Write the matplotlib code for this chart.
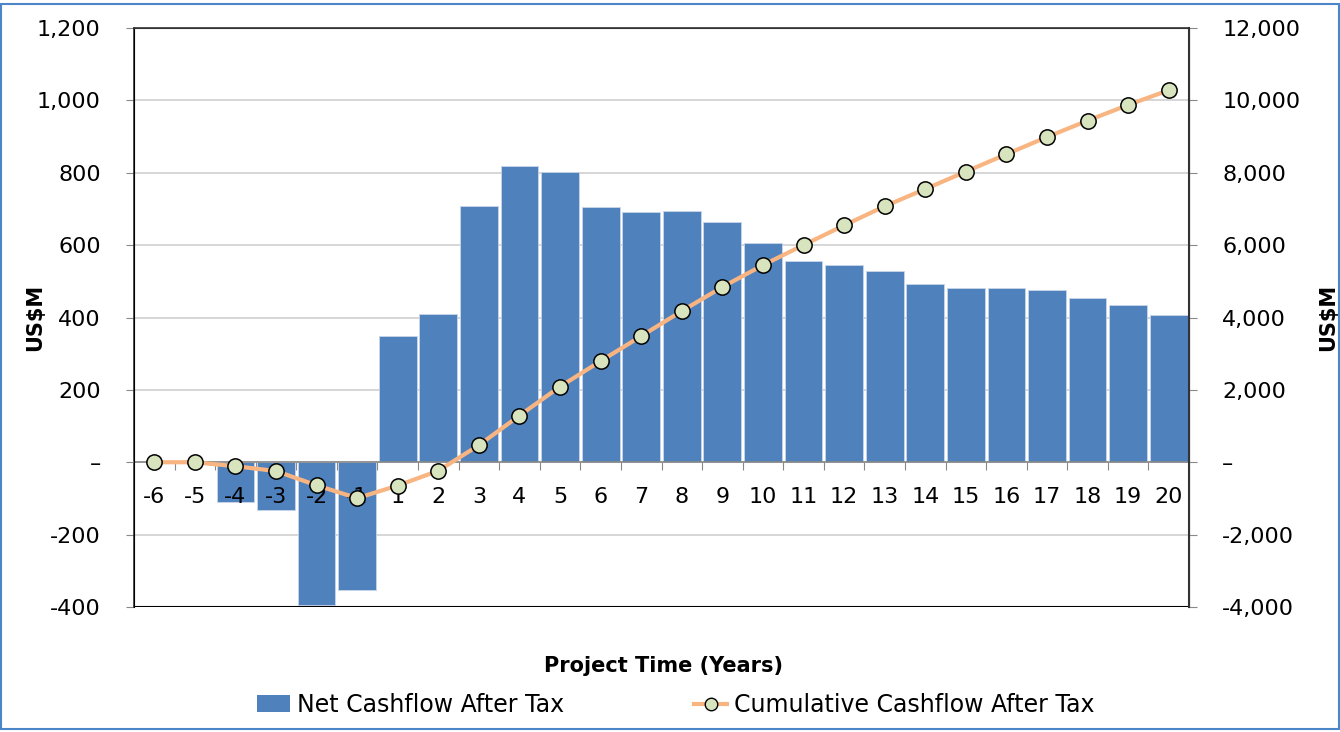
import matplotlib.pyplot as plt
from matplotlib.patches import Rectangle
from matplotlib.lines import Line2D
from matplotlib.patches import Patch

years = ["-6", "-5", "-4", "-3", "-2", "-1", "1", "2", "3", "4", "5", "6", "7",
         "8", "9", "10", "11", "12", "13", "14", "15", "16", "17", "18", "19", "20"]
net_cashflow = [0, 0, -110, -133, -395, -354, 348, 409, 707, 818, 801, 704, 691,
                693, 663, 605, 555, 544, 528, 492, 481, 481, 475, 453, 434, 406]
cum_cashflow = [0, 0, -110, -243, -638, -992, -644, -235, 472, 1290, 2091, 2795, 3486,
                4179, 4842, 5447, 6002, 6546, 7074, 7550, 8031, 8512, 8987, 9440, 9874, 10280]
left_ticks = [-400, -200, 0, 200, 400, 600, 800, 1000, 1200]
left_labels = ["-400", "-200", "\u2013", "200", "400", "600", "800", "1,000", "1,200"]
right_ticks = [-4000, -2000, 0, 2000, 4000, 6000, 8000, 10000, 12000]
right_labels = ["-4,000", "-2,000", "\u2013", "2,000", "4,000", "6,000", "8,000", "10,000", "12,000"]

plt.rcParams['font.family'] = ['DejaVu Sans']

BAR = '#4f81bd'
LINE = '#f8b581'
MARK = '#d7e4bd'

fig = plt.figure(figsize=(13.4, 7.32), dpi=100)
fig.patches.append(Rectangle((0.001, 0.004), 0.998, 0.99, transform=fig.transFigure,
                             fill=False, edgecolor='#4a86c8', linewidth=1.5))
ax = fig.add_axes([134 / 1340, 1 - 607 / 732, (1189 - 134) / 1340, (607 - 28) / 732])

x = list(range(len(years)))
ax.bar(x, net_cashflow, width=0.93, color=BAR, edgecolor='#c9d6ea', linewidth=0.6, zorder=2)
ax.set_xlim(-0.5, len(years) - 0.5)
ax.set_ylim(-400, 1200)
ax.set_yticks(left_ticks)
ax.set_yticklabels(left_labels, fontsize=16)
ax.yaxis.grid(True, color='#d0d0d0', linewidth=1.2, zorder=0)
ax.set_axisbelow(True)

# category axis sits on the zero line
ax.spines['bottom'].set_position(('data', 0))
ax.spines['bottom'].set_color('#888888')
ax.spines['bottom'].set_linewidth(1.2)
ax.set_xticks([i - 0.5 for i in range(1, len(years))])
ax.set_xticklabels([])
ax.tick_params(axis='x', length=6, color='#888888', direction='out')
for i, lab in enumerate(years):
    ax.text(i, -97, lab, ha='center', va='center', fontsize=16, zorder=5)
ax.axhline(-400, color='black', linewidth=1.5, zorder=3)
for s in ['left', 'top']:
    ax.spines[s].set_color('#333333')
    ax.spines[s].set_linewidth(1.2)
ax.tick_params(axis='y', length=6, color='#888888', pad=18)
ax.set_ylabel("US$M", fontsize=15, fontweight='bold')
ax.yaxis.set_label_coords(-0.084, 0.5)

ax2 = ax.twinx()
ax2.plot(x, cum_cashflow, color=LINE, linewidth=3, marker='o', markersize=11,
         markerfacecolor=MARK, markeredgecolor='black', markeredgewidth=1.1, zorder=4)
ax2.set_ylim(-4000, 12000)
ax2.set_yticks(right_ticks)
ax2.set_yticklabels(right_labels, fontsize=16)
ax2.tick_params(axis='y', length=6, color='#888888', pad=18)
ax2.spines['right'].set_color('#333333')
ax2.spines['right'].set_linewidth(1.5)
ax2.spines['bottom'].set_visible(False)
ax2.spines['top'].set_color('#333333')
ax2.set_ylabel("US$M", fontsize=15, fontweight='bold', rotation=90)
ax2.yaxis.set_label_coords(1.122, 0.5)

fig.text(663 / 1340, 1 - 666 / 732, "Project Time (Years)", ha='center', va='center',
         fontsize=15, fontweight='bold')

handles = [Patch(facecolor=BAR, edgecolor='none'),
           Line2D([0], [0], color=LINE, linewidth=3, marker='o', markersize=9,
                  markerfacecolor=MARK, markeredgecolor='black', markeredgewidth=1)]
fig.legend(handles, ["Net Cashflow After Tax", "Cumulative Cashflow After Tax"],
           loc='center', bbox_to_anchor=(676 / 1340, 1 - 705 / 732), ncol=2, frameon=False,
           fontsize=17, handlelength=1.4, handletextpad=0.3, columnspacing=5.5)

fig.savefig("out.png", dpi=100)
